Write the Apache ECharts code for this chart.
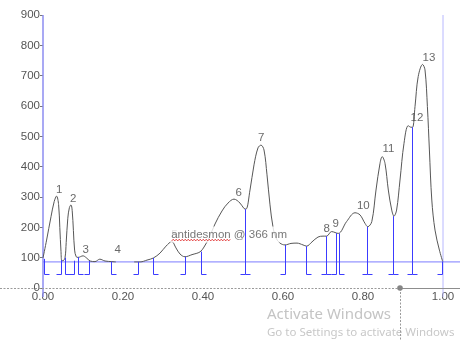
<!DOCTYPE html>
<html>
<head>
<meta charset="utf-8">
<script src="https://cdn.jsdelivr.net/npm/echarts@6/dist/echarts.min.js"></script>
<style>
  html, body { margin: 0; padding: 0; background: #fff; }
  #chart { width: 460px; height: 341px; }
</style>
</head>
<body>
<div id="chart"></div>
<script>
// Chromatogram trace: retention time (min) and detector signal; null marks a dropout.
const traceTime = [
  0.0, 0.009, 0.02, 0.028, 0.034, 0.039, 0.042, 0.045, 0.047,
  0.05, 0.055, 0.058, 0.062, 0.066, 0.07, 0.073, 0.076, 0.079, 0.083, 0.088,
  0.1, 0.108, 0.118, 0.13, 0.142, 0.155, 0.172, 0.182, 0.205,
  0.228, 0.243, 0.26, 0.276, 0.2925, 0.3075, 0.322, 0.3325, 0.3425, 0.355, 0.3725,
  0.3925, 0.4025, 0.415, 0.43, 0.4475, 0.4625, 0.4775, 0.4925, 0.5025, 0.5075,
  0.5175, 0.5275, 0.5375, 0.545, 0.5525, 0.56, 0.5675, 0.575, 0.5825, 0.5925,
  0.605, 0.62, 0.635, 0.65, 0.659, 0.6725, 0.6875, 0.70, 0.709, 0.7215, 0.738,
  0.759, 0.78, 0.7925, 0.805, 0.812, 0.822, 0.8325, 0.8425, 0.848, 0.855, 0.8633,
  0.8718, 0.8775, 0.884, 0.8925, 0.9025, 0.913, 0.92, 0.924, 0.93, 0.938, 0.949,
  0.955, 0.961, 0.966, 0.972, 0.98, 0.991, 0.9993
];
const traceSignal = [
  99, 158, 235, 285, 303, 275, 200, 120, 90,
  90, 100, 150, 230, 265, 274, 255, 190, 125, 103, 101,
  106, 100, 89, 87, 95, 89, 87, 86, null,
  86, 86, 92, 99, 115, 138, 153, 132, 112, 103, 110,
  119, 135, 165, 211, 254, 280, 293, 280, 262, 260,
  323, 406, 462, 471, 455, 373, 274, 201, 165, 148,
  142, 147, 148, 142, 138, 152, 168, 171, 171, 186, 180,
  219, 248, 241, 213, 202, 219, 323, 411, 433, 411, 323,
  257, 237, 257, 356, 477, 535, 530, 530, 598, 697, 737,
  719, 598, 455, 290, 191, 125, 87
];

// Numbered peaks: apex time and apex signal.
const peakNames   = ['1', '2', '3', '4', '5', '6', '7', '8', '9', '10', '11', '12', '13'];
const peakTimes   = [0.034, 0.069, 0.10, 0.18, 0.322, 0.4825, 0.539, 0.7025, 0.725, 0.786, 0.85, 0.92, 0.95];
const peakHeights = [302, 274, 104, 104, 153, 293, 473, 175, 190, 250, 437, 541, 739];

// Integration boundaries: time, signal where the drop line starts,
// and foot direction (1 = peak start, -1 = peak end, 0 = shared valley).
const boundTimes = [0.0025, 0.046, 0.055, 0.078, 0.089, 0.115, 0.172, 0.238, 0.275, 0.355, 0.395,
                    0.5075, 0.605, 0.658, 0.709, 0.734, 0.740, 0.8115, 0.8755, 0.9233, 0.9995];
const boundTops  = [96, 92, 100, 90, 102, 89, 87, 86, 99, 103, 120,
                    260, 142, 138, 171, 181, 180, 202, 237, 530, 87];
const boundSides = [1, -1, 1, -1, 1, -1, 1, -1, 1, -1, 1,
                    0, -1, 1, 0, -1, 1, 0, 0, 0, -1];

const baselineLevel = 86;     // integration baseline
const dropFloor = 43;         // where drop lines end
const runStart = 0, runEnd = 1.0;
const traceTitle = 'antidesmon @ 366 nm';
const titleAnchor = [0.3218, 174.5];
const cursorAt = [0.8925, 0];

const xMin = 0, xMax = 1.0425, xStep = 0.2;
const yMin = 0, yMax = 900, yStep = 100;

const FONT = "'Liberation Sans', Arial, sans-serif";
const chart = echarts.init(document.getElementById('chart'), null, { renderer: 'canvas' });

const traceData = traceTime.map((t, i) => [t, traceSignal[i]]);
const peakData = peakTimes.map((t, i) => [t, peakHeights[i], peakNames[i]]);
const boundData = boundTimes.map((t, i) => [t, boundTops[i], boundSides[i]]);

function crisp(v) { return Math.round(v - 0.5) + 0.5; }

chart.setOption({
  animation: false,
  backgroundColor: '#fff',
  grid: { left: 43, right: 0, top: 15, bottom: 53, containLabel: false },
  xAxis: {
    type: 'value', min: xMin, max: xMax, interval: xStep,
    axisLine: { show: false },
    axisTick: { show: false },
    splitLine: { show: false },
    axisLabel: {
      color: '#555', fontSize: 11.5, fontFamily: FONT, margin: 3,
      showMaxLabel: false,
      formatter: v => v.toFixed(2)
    }
  },
  yAxis: {
    type: 'value', min: yMin, max: yMax, interval: yStep,
    axisLine: { show: false },
    axisTick: { show: true, length: 3, lineStyle: { color: '#777' } },
    splitLine: { show: false },
    axisLabel: { color: '#555', fontSize: 11.5, fontFamily: FONT, margin: 3 }
  },
  series: [
    {
      name: 'start', type: 'line', z: 1, clip: false, silent: true, symbol: 'none',
      data: [[runStart, yMax], [runStart, -30]],
      lineStyle: { color: '#8c8cf0', width: 1.5 }
    },
    {
      name: 'end', type: 'line', z: 1, clip: false, silent: true, symbol: 'none',
      data: [[runEnd, yMax], [runEnd, -30]],
      lineStyle: { color: '#b8b8ff', width: 1 }
    },
    {
      name: 'baseline', type: 'line', z: 1, silent: true, symbol: 'none',
      data: [[xMin, baselineLevel], [xMax, baselineLevel]],
      lineStyle: { color: '#7c7cff', width: 1 }
    },
    {
      name: 'signal', type: 'line', z: 2, silent: true, symbol: 'none',
      smooth: 0.35, connectNulls: false,
      data: traceData,
      lineStyle: { color: '#575757', width: 1 }
    },
    {
      name: 'peaks', type: 'scatter', z: 3, silent: true,
      symbolSize: 1, itemStyle: { color: 'rgba(0,0,0,0)' },
      data: peakData,
      label: {
        show: true, position: [0, 0], align: 'left', verticalAlign: 'bottom',
        color: '#444', fontSize: 11.5, fontFamily: FONT,
        formatter: p => p.data[2]
      }
    },
    {
      name: 'title', type: 'scatter', z: 4, silent: true,
      symbolSize: 1, itemStyle: { color: 'rgba(0,0,0,0)' },
      data: [titleAnchor],
      label: {
        show: true, position: [-1, 0], align: 'left', verticalAlign: 'middle',
        color: '#555', fontSize: 11.5, fontFamily: FONT, lineHeight: 14,
        backgroundColor: '#fff', padding: [1, 1, 1, 1],
        formatter: () => traceTitle
      }
    },
    {
      name: 'integration', type: 'custom', z: 5, silent: true,
      data: boundData,
      renderItem: function (params, api) {
        const t = api.value(0), top = api.value(1), side = api.value(2);
        const pTop = api.coord([t, top]);
        const pBot = api.coord([t, dropFloor]);
        const half = api.size([0.0125, 0])[0];
        const x = crisp(pTop[0]), yb = crisp(pBot[1]);
        const style = { stroke: '#3c3cff', lineWidth: 1 };
        const kids = [{ type: 'line', shape: { x1: x, y1: pTop[1], x2: x, y2: yb }, style: style }];
        if (side >= 0) kids.push({ type: 'line', shape: { x1: x, y1: yb, x2: x + half, y2: yb }, style: style });
        if (side <= 0) kids.push({ type: 'line', shape: { x1: x - half, y1: yb, x2: x, y2: yb }, style: style });
        return { type: 'group', children: kids };
      }
    }
  ]
});

// Overlays: spell-check squiggle under the compound name, cursor crosshair, system watermark.
const ctx = document.createElement('canvas').getContext('2d');
ctx.font = '11.5px ' + FONT;
const nameWidth = ctx.measureText(traceTitle.split(' ')[0]).width;
const tp = chart.convertToPixel({ gridIndex: 0 }, titleAnchor);
const sq = [];
for (let x = 0; x <= nameWidth; x += 1.5) {
  sq.push([tp[0] + x, tp[1] + 5 + ((Math.round(x / 1.5) % 2) ? -0.8 : 0.8)]);
}
const cp = chart.convertToPixel({ gridIndex: 0 }, cursorAt);
const rightEdge = chart.convertToPixel({ gridIndex: 0 }, [xMax, 0])[0];
const cx = Math.round(cp[0]) + 0.5, cy = Math.round(cp[1]) + 0.5;

chart.setOption({
  graphic: [
    { type: 'polyline', z: 100, silent: true, shape: { points: sq },
      style: { stroke: '#e23a3a', lineWidth: 1, fill: null } },
    { type: 'line', z: 90, silent: true, shape: { x1: 0, y1: cy, x2: cx, y2: cy },
      style: { stroke: '#9a9a9a', lineWidth: 1, lineDash: [2, 1.5] } },
    { type: 'line', z: 90, silent: true, shape: { x1: cx, y1: cy, x2: rightEdge, y2: cy },
      style: { stroke: '#8d8d8d', lineWidth: 1 } },
    { type: 'line', z: 90, silent: true, shape: { x1: cx, y1: cy, x2: cx, y2: 341 },
      style: { stroke: '#9a9a9a', lineWidth: 1, lineDash: [2, 1.5] } },
    { type: 'circle', z: 91, silent: true, shape: { cx: cp[0], cy: cp[1], r: 2.8 },
      style: { fill: '#858585' } },
    { type: 'text', z: 80, silent: true, x: 267, y: 315,
      style: { text: 'Activate Windows', fill: '#c4c4c4', font: "15px 'Noto Sans', 'Open Sans', sans-serif",
               verticalAlign: 'middle', align: 'left' } },
    { type: 'text', z: 80, silent: true, x: 267, y: 333,
      style: { text: 'Go to Settings to activate Windows', fill: '#c8c8c8', font: "11.5px 'Noto Sans', 'Open Sans', sans-serif",
               verticalAlign: 'middle', align: 'left' } }
  ]
});
</script>
</body>
</html>
